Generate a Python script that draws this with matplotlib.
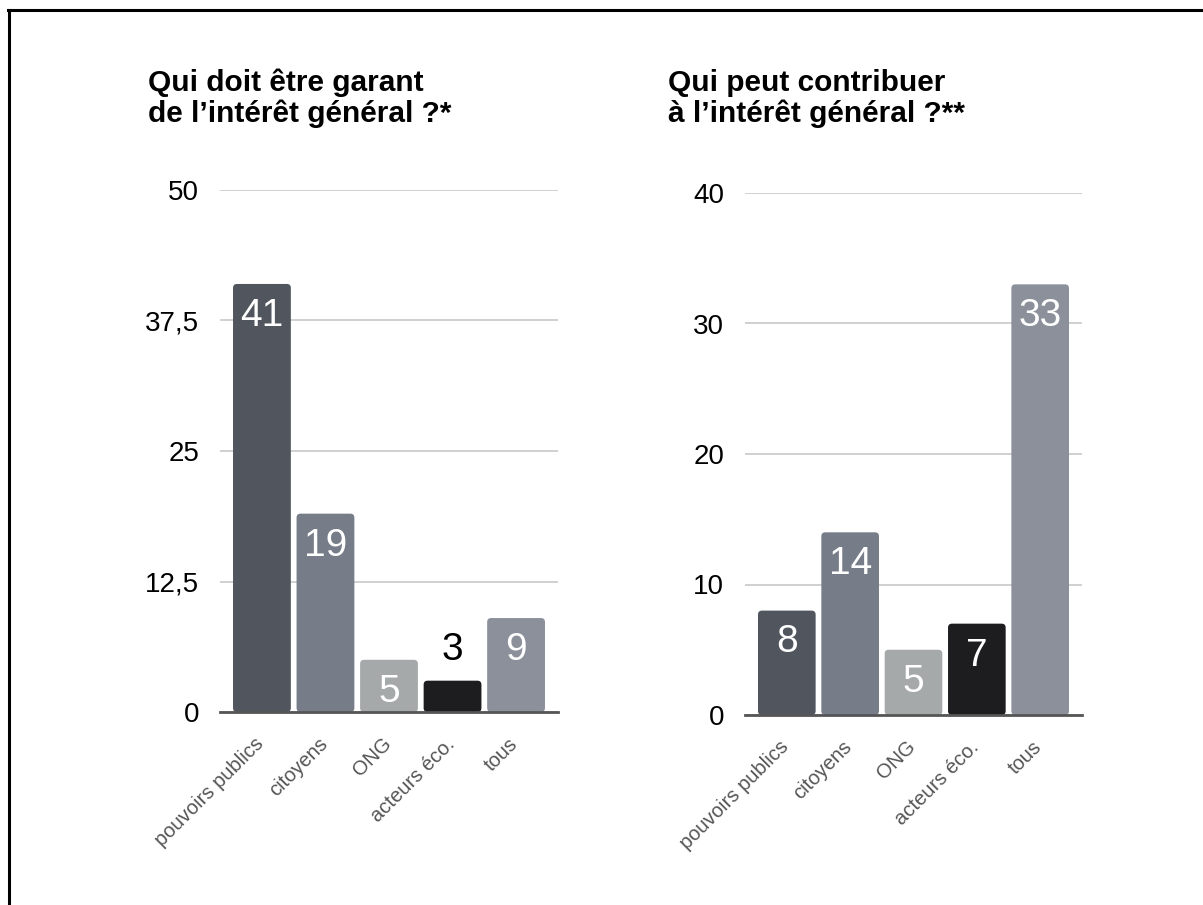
import matplotlib.pyplot as plt
from matplotlib.patches import FancyBboxPatch
from matplotlib.lines import Line2D
from matplotlib.transforms import ScaledTranslation

plt.rcParams['font.family'] = ['Liberation Sans', 'DejaVu Sans']

categories = ['pouvoirs publics', 'citoyens', 'ONG', 'acteurs éco.', 'tous']
colors = ['#50555e', '#777d88', '#a5a9aa', '#1d1d1f', '#8b909b']

garant_vals = [41, 19, 5, 3, 9]
garant_ticks = [0, 12.5, 25, 37.5, 50]
garant_ticklabels = ['0', '12,5', '25', '37,5', '50']

contrib_vals = [8, 14, 5, 7, 33]
contrib_ticks = [0, 10, 20, 30, 40]
contrib_ticklabels = ['0', '10', '20', '30', '40']

titles = ['Qui doit être garant\nde l\u2019intérêt général ?*',
          'Qui peut contribuer\nà l\u2019intérêt général ?**']

fig = plt.figure(figsize=(12.03, 9.05), dpi=100)

# frame: only left and top edges visible
fig.add_artist(Line2D([0.0073, 0.0073], [0, 0.9885], color='black', lw=2.2, transform=fig.transFigure))
fig.add_artist(Line2D([0.0065, 1.0], [0.9885, 0.9885], color='black', lw=2.2, transform=fig.transFigure))

W, H = 1203, 905
panels = [
    ([220 / W, 1 - 712 / H, 338 / W, 522 / H], garant_vals, garant_ticks, garant_ticklabels, titles[0], 148 / W),
    ([745 / W, 1 - 715 / H, 337 / W, 522 / H], contrib_vals, contrib_ticks, contrib_ticklabels, titles[1], 668 / W),
]

for pos, vals, ticks, ticklabels, title, tx in panels:
    ax = fig.add_axes(pos)
    x = range(len(categories))
    bars = ax.bar(x, vals, width=0.91, color=colors, zorder=3)
    ax.set_xlim(-0.66, len(categories) - 0.34)
    ax.set_ylim(0, ticks[-1])

    # rounded corners
    px_x = pos[2] * W / 5.32
    px_y = pos[3] * H / ticks[-1]
    r = 4.0 / px_x
    for b in bars:
        b.set_visible(False)
        p = FancyBboxPatch((b.get_x(), 0), b.get_width(), b.get_height(),
                           boxstyle='round,pad=0,rounding_size=%f' % r,
                           mutation_aspect=px_x / px_y,
                           facecolor=b.get_facecolor(), edgecolor='none', zorder=3)
        ax.add_patch(p)

    for i, v in enumerate(vals):
        if v * px_y > 45:
            ax.annotate(str(v), (i, v), xytext=(0, -10), textcoords='offset points',
                        ha='center', va='top', color='white', fontsize=28, zorder=4)
        else:
            ax.annotate(str(v), (i, v), xytext=(0, 9), textcoords='offset points',
                        ha='center', va='bottom', color='black', fontsize=28, zorder=4)

    ax.set_yticks(ticks)
    ax.set_yticklabels(ticklabels, fontsize=20)
    ax.yaxis.grid(True, color='#c8c8c8', lw=1.2, zorder=0)
    ax.tick_params(axis='y', length=0, pad=15)
    ax.set_xticks(list(x))
    ax.set_xticklabels(categories, rotation=45, ha='right', rotation_mode='anchor',
                       fontsize=14.5, color='#555555')
    ax.tick_params(axis='x', length=0, pad=16)
    shift = ScaledTranslation(-5.5 / 72, 0, fig.dpi_scale_trans)
    for lab in ax.get_xticklabels():
        lab.set_transform(lab.get_transform() + shift)
    for s in ['top', 'right', 'left']:
        ax.spines[s].set_visible(False)
    ax.spines['bottom'].set_color('#555555')
    ax.spines['bottom'].set_linewidth(2)
    ax.spines['bottom'].set_zorder(5)
    ax.set_axisbelow(True)

    fig.text(tx, 0.924, title, fontsize=21.5, fontweight='bold', ha='left', va='top',
             linespacing=1.12)

fig.savefig('out.png', dpi=100)
